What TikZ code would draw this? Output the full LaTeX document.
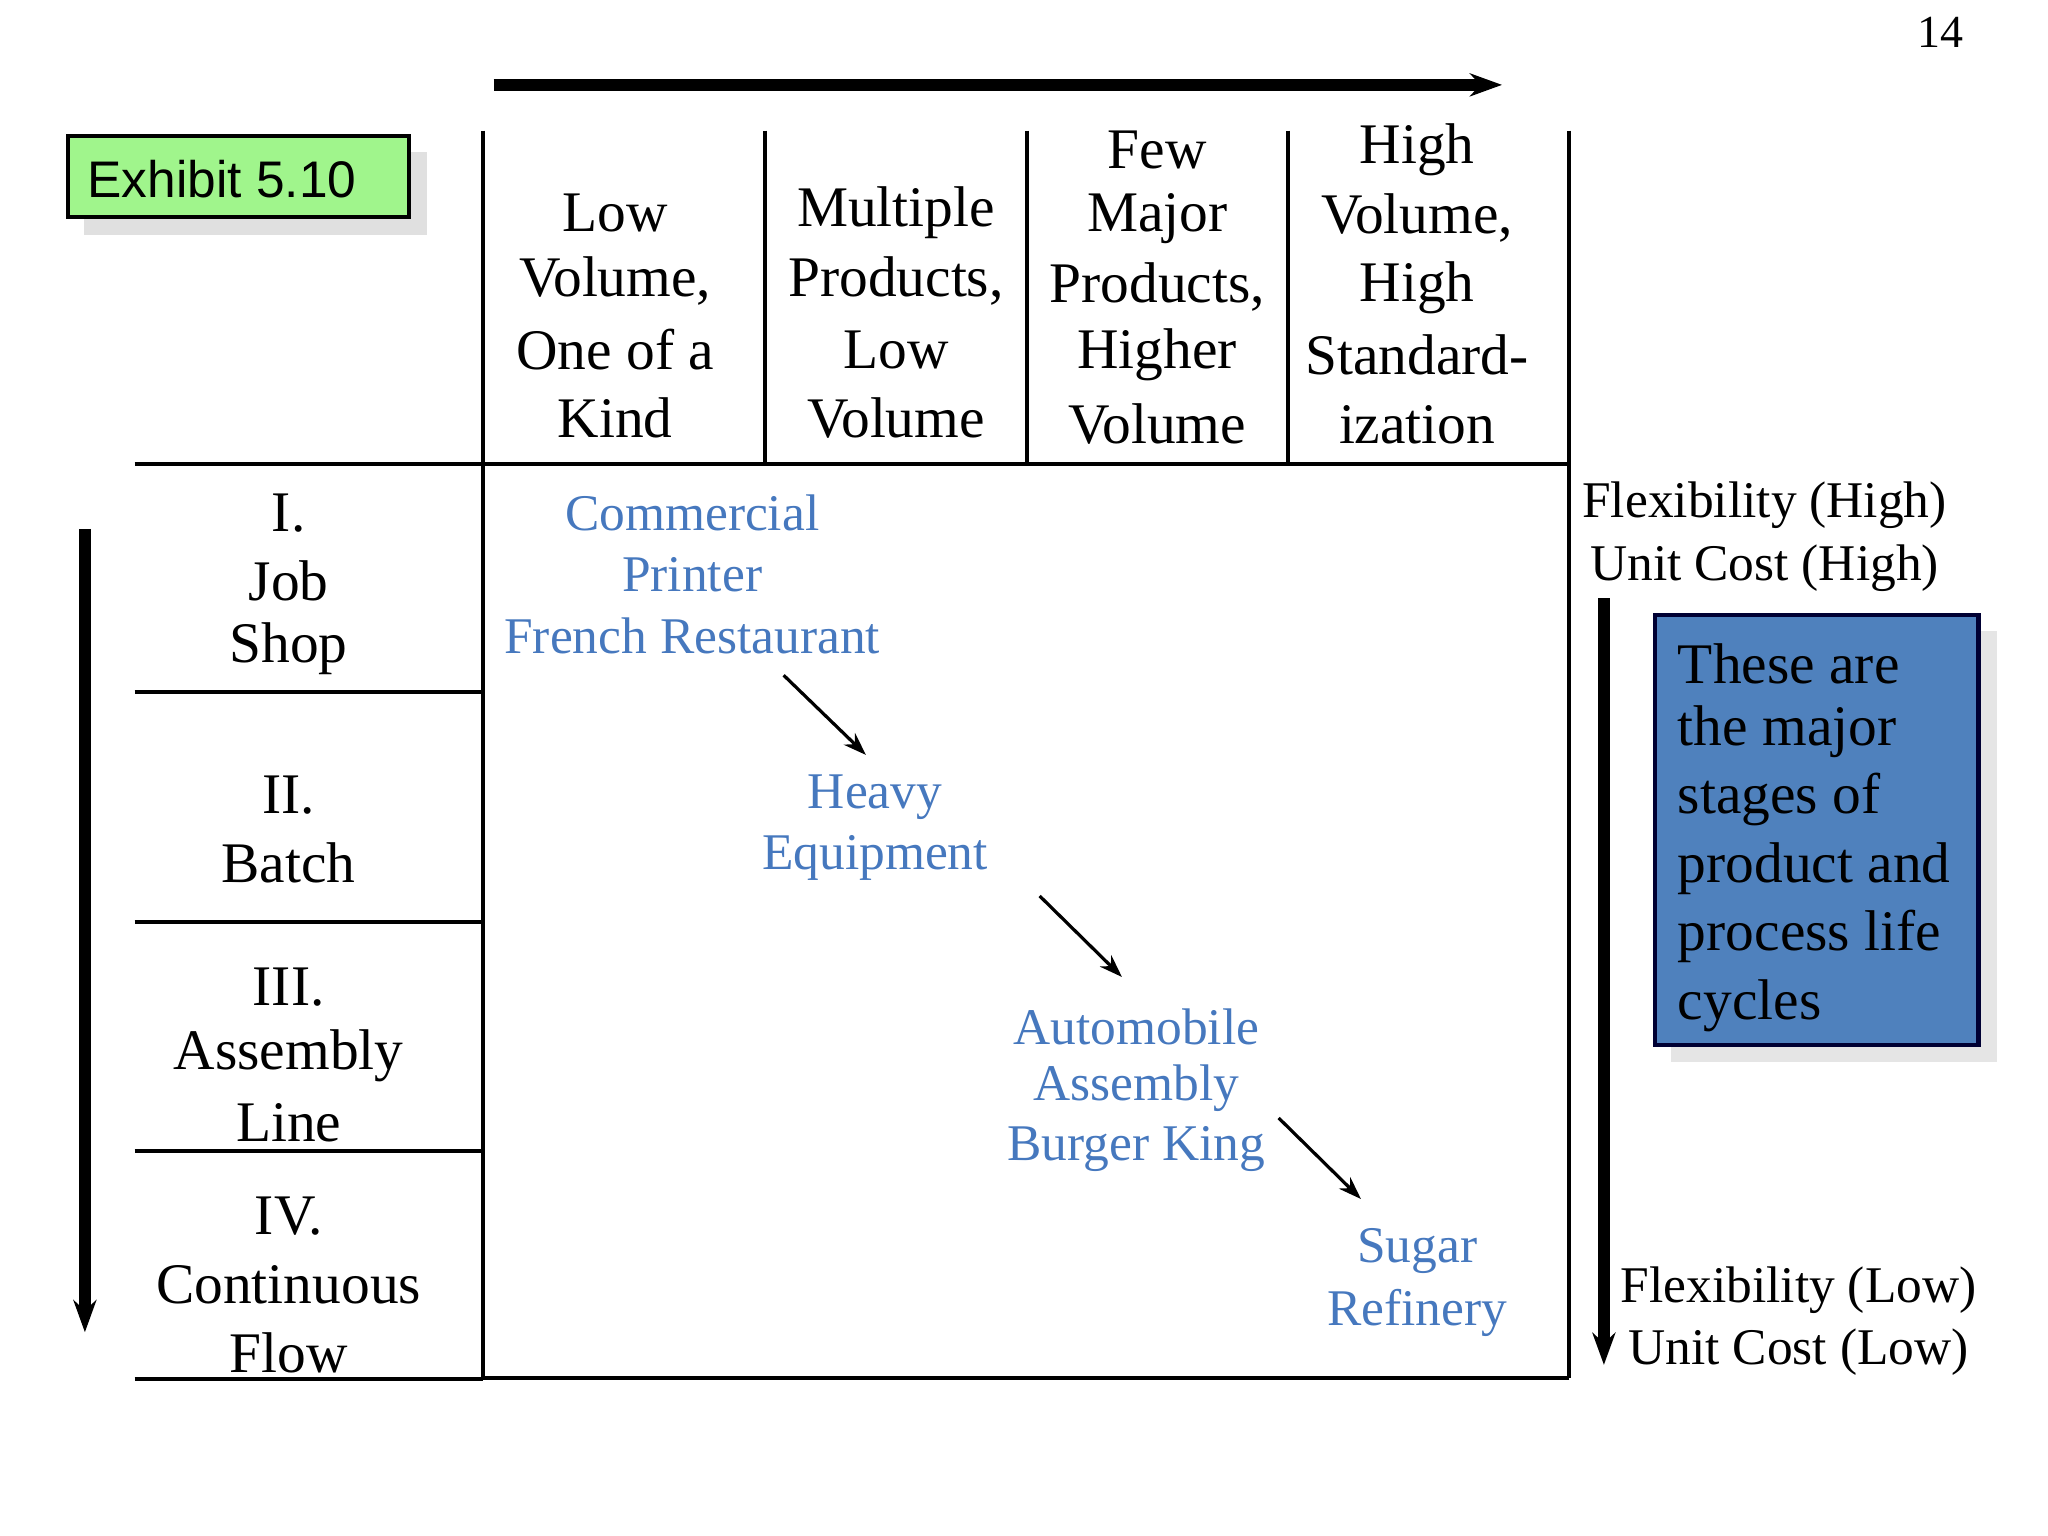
\documentclass[tikz,border=0pt]{standalone}
\usepackage{fontspec}
\setmainfont{Liberation Serif}
\newfontfamily\arialf{Liberation Sans}
\usetikzlibrary{arrows.meta}
\definecolor{bluetxt}{RGB}{70,120,190}
\definecolor{boxblue}{RGB}{79,129,189}
\definecolor{exgreen}{RGB}{160,245,140}
\begin{document}
\begin{tikzpicture}[x=0.01cm,y=-0.01cm,
  lbl/.style={font=\fontsize{12.5}{14.8}\selectfont,inner sep=0pt,anchor=center},
  slbl/.style={font=\fontsize{11.2}{13}\selectfont,inner sep=0pt,anchor=center},
  blu/.style={slbl,text=bluetxt},
  ln/.style={line width=0.9pt},
  big/.style={line width=2.5pt,-{Stealth[length=7pt,width=5pt]}},
  sm/.style={line width=0.7pt,-{Stealth[length=5pt,width=3.5pt]}}]
\useasboundingbox (0,0) rectangle (1568,1176);
\node[lbl,font=\fontsize{10}{12}\selectfont] (pg) at (1486,25) {14};
\coordinate (ta) at (378,65); \coordinate (tb) at (1150,65);
\draw[big] (ta) -- (tb);
% exhibit
\fill[black!12] (64,116) rectangle (327,180);
\draw[line width=1pt,fill=exgreen] (52,104) rectangle (313,166);
\node[slbl,font=\arialf\fontsize{11.2}{13}\selectfont] (ex) at (170,137) {Exhibit 5.10};
% grid
\foreach \x in {586,786,986} \draw[ln] (\x,100) -- (\x,355);
\draw[ln] (370,100) -- (370,1055);
\draw[ln] (1201,100) -- (1201,1055);
\draw[ln] (370,355) -- (1201,355);
\draw[ln] (370,1055) -- (1201,1055);
\foreach \y in {355,530,706,881,1056} \draw[ln] (103,\y) -- (370,\y);
% headers
\node[lbl] (h1) at (471,163) {Low}; \node[lbl] at (471,215) {Volume,};
\node[lbl] at (471,268) {One of a}; \node[lbl] at (471,320) {Kind};
\node[lbl] (h2) at (686,163) {Multiple}; \node[lbl] at (686,215) {Products,};
\node[lbl] at (686,268) {Low}; \node[lbl] at (686,320) {Volume};
\node[lbl] (h3) at (886,115) {Few}; \node[lbl] at (886,167) {Major};
\node[lbl] at (886,220) {Products,}; \node[lbl] at (886,272) {Higher}; \node[lbl] at (886,325) {Volume};
\node[lbl] (h4) at (1085,115) {High}; \node[lbl] at (1085,167) {Volume,};
\node[lbl] at (1085,220) {High}; \node[lbl] at (1085,272) {Standard-}; \node[lbl] at (1085,325) {ization};
% rows
\node[lbl] (r1) at (221,393) {I.}; \node[lbl] at (221,445) {Job}; \node[lbl] at (221,497) {Shop};
\node[lbl] (r2) at (221,609) {II.}; \node[lbl] at (221,661) {Batch};
\node[lbl] (r3) at (221,756) {III.}; \node[lbl] at (221,808) {Assembly}; \node[lbl] at (221,860) {Line};
\node[lbl] (r4) at (221,931) {IV.}; \node[lbl] at (221,984) {Continuous}; \node[lbl] at (221,1036) {Flow};
\coordinate (la) at (65,405); \coordinate (lb) at (65,1020);
\draw[big] (la) -- (lb);
% blue
\node[blu] (c1) at (530,393) {Commercial}; \node[blu] at (530,440) {Printer}; \node[blu] at (530,487) {French Restaurant};
\node[blu] (c2) at (670,610) {Heavy}; \node[blu] at (670,657) {Equipment};
\node[blu] (c3) at (870,786) {Automobile}; \node[blu] at (870,833) {Assembly}; \node[blu] at (870,880) {Burger King};
\node[blu] (c4) at (1085,958) {Sugar}; \node[blu] at (1085,1005) {Refinery};
\coordinate (a1) at (600,517); \coordinate (b1) at (663,578);
\coordinate (a2) at (796,686); \coordinate (b2) at (859,748);
\coordinate (a3) at (979,856); \coordinate (b3) at (1042,918);
\draw[sm] (a1) -- (b1); \draw[sm] (a2) -- (b2); \draw[sm] (a3) -- (b3);
% right
\node[slbl] (f1) at (1351,387) {Flexibility (High)}; \node[slbl] at (1351,435) {Unit Cost (High)};
\node[slbl] (f2) at (1377,988) {Flexibility (Low)}; \node[slbl] at (1377,1035) {Unit Cost (Low)};
\coordinate (ra) at (1228,458); \coordinate (rb) at (1228,1045);
\draw[big] (ra) -- (rb);
\fill[black!10] (1279,483) rectangle (1529,813);
\draw[line width=1pt,draw=black!80!blue,fill=boxblue] (1267,471) rectangle (1515,800);
\foreach \t/\y in {These are/508,the major/560,stages of/612,product and/665,process life/717,cycles/770}
  \node[lbl,anchor=west] at (1284,\y) {\t};
\end{tikzpicture}
\end{document}
